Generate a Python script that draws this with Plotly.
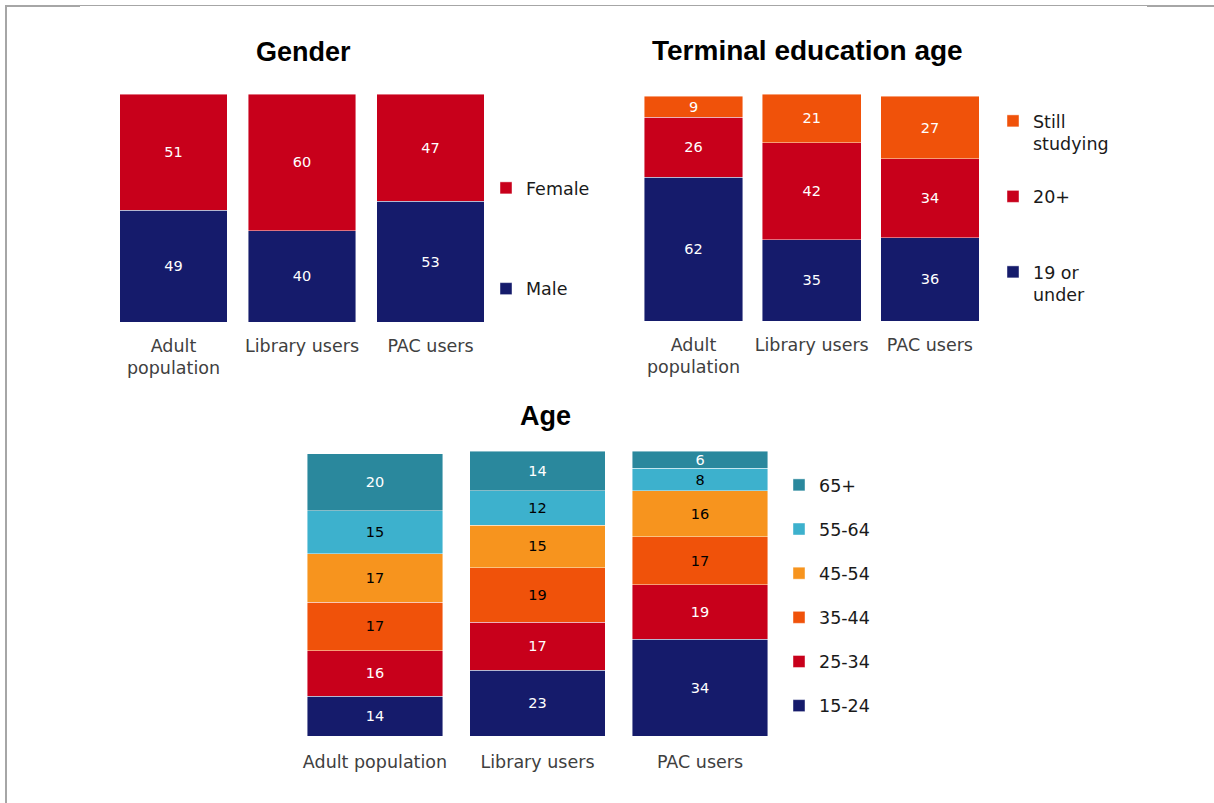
import plotly.graph_objects as go

# ---------------- data ----------------
categories = ["Adult population", "Library users", "PAC users"]
tick_two_line = ["Adult<br>population", "Library users", "PAC users"]

gender_series = ["Male", "Female"]
gender_male = [49, 40, 53]
gender_female = [51, 60, 47]

tea_series = ["19 or<br>under", "20+<br>&nbsp;", "Still<br>studying"]
tea_19_under = [62, 35, 36]
tea_20_plus = [26, 42, 34]
tea_still = [9, 21, 27]

age_series = ["15-24", "25-34", "35-44", "45-54", "55-64", "65+"]
age_15_24 = [14, 23, 34]
age_25_34 = [16, 17, 19]
age_35_44 = [17, 19, 17]
age_45_54 = [17, 15, 16]
age_55_64 = [15, 12, 8]
age_65_plus = [20, 14, 6]

# ---------------- styles ----------------
NAVY = "#151b6b"
RED = "#c8001b"
ORANGE = "#f0520a"
LORANGE = "#f7941e"
LBLUE = "#3db1cd"
TEAL = "#2a889d"

W, H = 1214, 803
FONT = "DejaVu Sans"


def xd(a, b):
    return [a / W, b / W]


def yd(top, bottom):
    return [1 - bottom / H, 1 - top / H]


fig = go.Figure()


def add_bar(vals, name, color, txtcolor, xa, ya, leg, rank):
    fig.add_trace(go.Bar(
        x=categories, y=vals, name=name,
        marker=dict(color=color, line=dict(color="rgba(255,255,255,0.55)", width=0.8)),
        text=vals, texttemplate="%{text}", textposition="inside",
        insidetextanchor="middle", textangle=0,
        textfont=dict(family=FONT, size=14.5, color=txtcolor),
        xaxis=xa, yaxis=ya, legend=leg, legendgroup=name + leg, legendrank=rank,
        hoverinfo="skip",
    ))


add_bar(gender_male, gender_series[0], NAVY, "white", "x", "y", "legend", 900)
add_bar(gender_female, gender_series[1], RED, "white", "x", "y", "legend", 800)

add_bar(tea_19_under, tea_series[0], NAVY, "white", "x2", "y2", "legend2", 900)
add_bar(tea_20_plus, tea_series[1], RED, "white", "x2", "y2", "legend2", 800)
add_bar(tea_still, tea_series[2], ORANGE, "white", "x2", "y2", "legend2", 700)

age_vals = [age_15_24, age_25_34, age_35_44, age_45_54, age_55_64, age_65_plus]
age_cols = [NAVY, RED, ORANGE, LORANGE, LBLUE, TEAL]
age_txt = ["white", "white", "black", "black", "black", "white"]
for i, (v, n, c, t) in enumerate(zip(age_vals, age_series, age_cols, age_txt)):
    add_bar(v, n, c, t, "x3", "y3", "legend3", 900 - i * 10)

xcommon = dict(showline=False, showgrid=False, zeroline=False, ticks="",
               tickfont=dict(family=FONT, size=17.5, color="#404040"),
               categoryorder="array", categoryarray=categories, range=[-0.5, 2.5])
ycommon = dict(visible=False, showgrid=False, zeroline=False)

legcommon = dict(font=dict(family=FONT, size=17.5, color="#1a1a1a"),
                 bgcolor="rgba(0,0,0,0)", traceorder="grouped",
                 xanchor="left", yanchor="top", valign="top", itemclick=False)

fig.update_layout(
    width=W, height=H, margin=dict(l=0, r=0, t=0, b=0),
    paper_bgcolor="white", plot_bgcolor="white",
    barmode="stack", bargap=0.165,
    uniformtext=dict(minsize=14.5, mode="show"),
    xaxis=dict(domain=xd(109.25, 494.75), anchor="y", ticklabelstandoff=11,
               tickvals=categories, ticktext=tick_two_line, **xcommon),
    yaxis=dict(domain=yd(94, 322), range=[0, 100], anchor="x", **ycommon),
    xaxis2=dict(domain=xd(634.4, 989), anchor="y2", ticklabelstandoff=11,
                tickvals=categories, ticktext=tick_two_line, **xcommon),
    yaxis2=dict(domain=yd(94, 321), range=[0, 98], anchor="x2", **ycommon),
    xaxis3=dict(domain=xd(293.75, 781.25), anchor="y3", ticklabelstandoff=13, **xcommon),
    yaxis3=dict(domain=yd(451, 736), range=[0, 100], anchor="x3", **ycommon),
    legend=dict(x=486 / W, y=1 - 170 / H, tracegroupgap=75, **legcommon),
    legend2=dict(x=993 / W, y=1 - 103 / H, tracegroupgap=27, **legcommon),
    legend3=dict(x=779 / W, y=1 - 467 / H, tracegroupgap=18.4, **legcommon),
    showlegend=True,
)

for txt, cx, cy, sz in [("<b>Gender</b>", 303.5, 52, 27), ("<b>Terminal education age</b>", 807, 50, 28),
                        ("<b>Age</b>", 545, 416, 27)]:
    fig.add_annotation(text=txt, x=cx / W, y=1 - cy / H, xref="paper", yref="paper",
                       xanchor="center", yanchor="middle", showarrow=False,
                       font=dict(family="Liberation Sans", size=sz, color="black"))

# frame lines
GR = "#a6a6a6"
fig.add_shape(type="line", xref="paper", yref="paper", x0=6 / W, x1=6 / W, y0=0, y1=1 - 5 / H,
              line=dict(color=GR, width=2))
fig.add_shape(type="line", xref="paper", yref="paper", x0=5 / W, x1=80 / W, y0=1 - 6 / H, y1=1 - 6 / H,
              line=dict(color=GR, width=2))
fig.add_shape(type="line", xref="paper", yref="paper", x0=80 / W, x1=1147 / W, y0=1 - 5.5 / H,
              y1=1 - 5.5 / H, line=dict(color=GR, width=1))
fig.add_shape(type="line", xref="paper", yref="paper", x0=1147 / W, x1=1, y0=1 - 6 / H, y1=1 - 6 / H,
              line=dict(color=GR, width=2))

fig.write_html("out.html", config={"displayModeBar": False},
               post_script="document.body.style.margin='0';document.body.style.overflow='hidden';")
